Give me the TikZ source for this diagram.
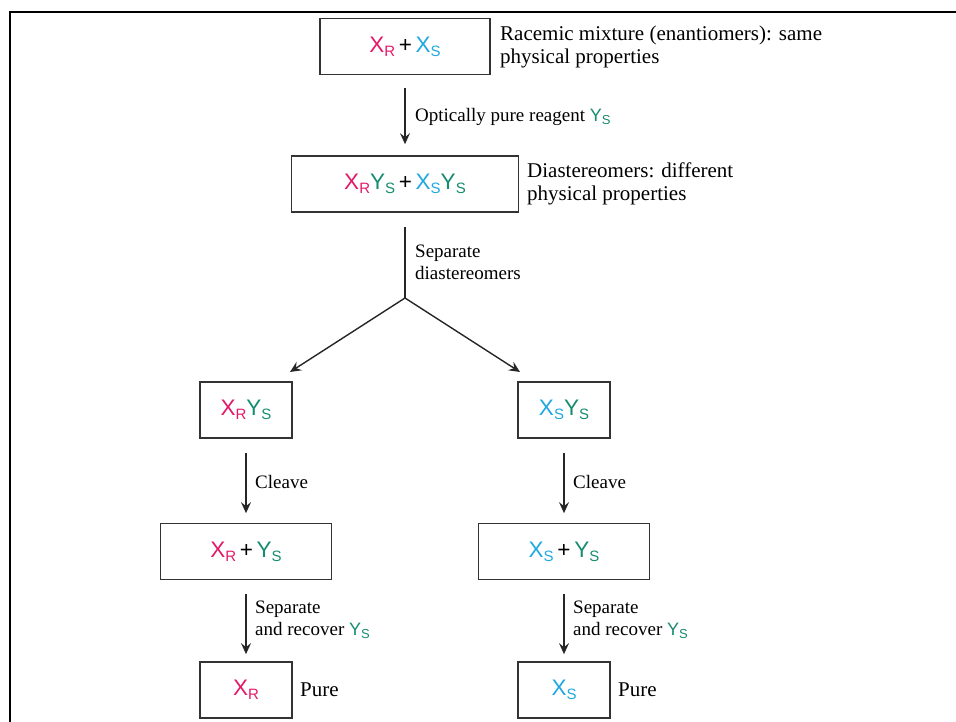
\documentclass[tikz,border=0pt]{standalone}
\usepackage{fontspec}
\setmainfont{Liberation Serif}
\setsansfont{Liberation Sans}
\usetikzlibrary{arrows.meta}
\definecolor{rcol}{RGB}{228,24,104}
\definecolor{scol}{RGB}{30,168,224}
\definecolor{ycol}{RGB}{22,140,112}
\newcommand{\subsf}[1]{\raisebox{-0.35ex}{\fontsize{15}{15}\selectfont #1}}
\newcommand{\xR}{{\color{rcol}X\subsf{R}}}
\newcommand{\xS}{{\color{scol}X\subsf{S}}}
\newcommand{\yS}{{\color{ycol}Y\subsf{S}}}
\newcommand{\lblyS}{{\sffamily\color{ycol}\fontsize{18}{18}\selectfont Y\raisebox{-0.35ex}{\fontsize{13}{13}\selectfont S}}}

\begin{document}
\begin{tikzpicture}[x=1pt,y=-1pt,
    box/.style={draw=black!80,line width=1.7pt,minimum width=#1,minimum height=56pt,
      inner sep=0pt,font=\sffamily\fontsize{22.5}{22.5}\selectfont},
    box/.default=92pt,
    side/.style={anchor=west,align=left,inner sep=0pt,font=\fontsize{21}{23}\selectfont},
    note/.style={anchor=west,align=left,inner sep=0pt,font=\fontsize{19}{22}\selectfont},
    conn/.style={-{Stealth[length=11pt,width=10pt,inset=4pt]},line width=1.4pt,black!85}]
    \useasboundingbox (0,0) rectangle (956,722);
    \draw[line width=2.5pt] (10,722)--(10,12)--(956,12);

    % racemic mixture
    \node[box=170pt] (mix) at (405,46.5) {\xR\,+\,\xS};
    \node[side] at (500,46.5) {Racemic mixture (enantiomers): same\\physical properties};
    \node[box=227pt] (dia) at (405,184) {\xR\yS\,+\,\xS\yS};
    \node[side] at (527,184) {Diastereomers: different\\physical properties};
    \draw[conn,shorten <=12.5pt,shorten >=11pt] (mix.south)--(dia.north);
    \node[note] at (415,117) {Optically pure reagent \lblyS};

    % separation
    \coordinate (split) at (405,298);
    \coordinate (tipl) at (290,372);
    \coordinate (tipr) at (520,372);
    \draw[line width=1.4pt,black!85,shorten <=14pt] (dia.south)--(split);
    \node[note] at (415,262) {Separate\\diastereomers};
    \draw[conn] (split)--(tipl);
    \draw[conn] (split)--(tipr);

    % two branches
    \node[box] (rs) at (246,410) {\xR\yS};
    \node[box] (ss) at (564,410) {\xS\yS};
    \node[box=171pt] (rcl) at (246,551.5) {\xR\,+\,\yS};
    \node[box=171pt] (scl) at (564,551.5) {\xS\,+\,\yS};
    \node[box] (rp) at (246,690) {\xR};
    \node[box] (sp) at (564,690) {\xS};
    \node[side] at (300,690) {Pure};
    \node[side] at (618,690) {Pure};

    \draw[conn,shorten <=14pt,shorten >=9.5pt] (rs.south)--(rcl.north);
    \draw[conn,shorten <=14pt,shorten >=9.5pt] (ss.south)--(scl.north);
    \node[note] at (255,482) {Cleave};
    \node[note] at (573,482) {Cleave};
    \draw[conn,shorten <=13.5pt,shorten >=7pt] (rcl.south)--(rp.north);
    \draw[conn,shorten <=13.5pt,shorten >=7pt] (scl.south)--(sp.north);
    \node[note] at (255,620) {Separate\\and recover \lblyS};
    \node[note] at (573,620) {Separate\\and recover \lblyS};
\end{tikzpicture}
\end{document}
